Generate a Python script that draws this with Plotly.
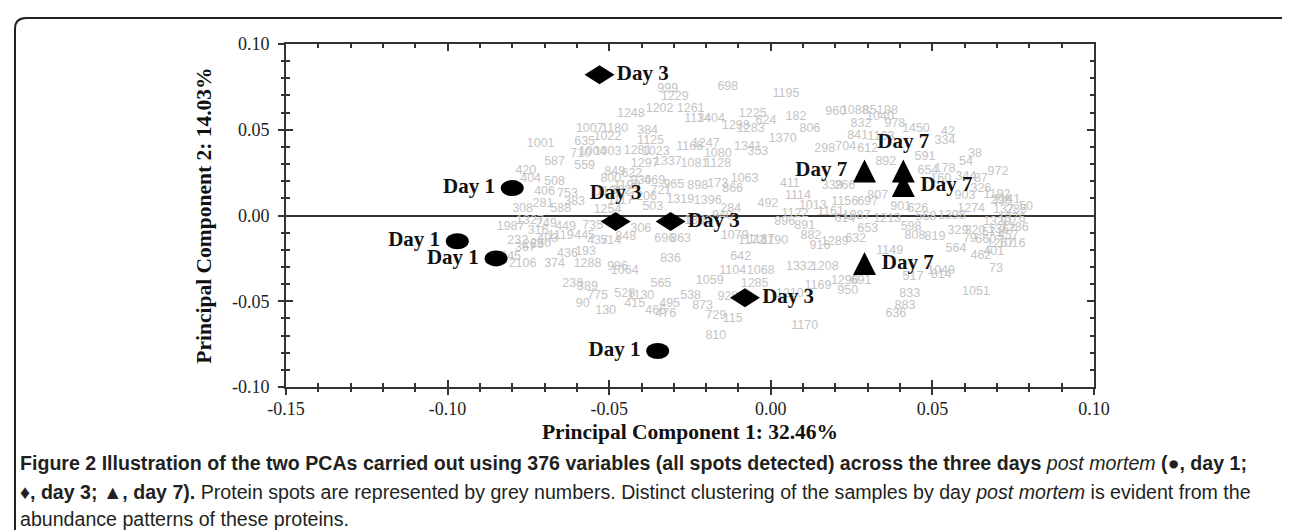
import plotly.graph_objects as go

# ---------------- data ----------------
day1_x = [-0.080, -0.097, -0.085, -0.035]
day1_y = [0.016, -0.015, -0.025, -0.079]
day3_x = [-0.053, -0.048, -0.031, -0.008]
day3_y = [0.082, -0.0035, -0.0035, -0.048]
day7_x = [0.029, 0.041, 0.041, 0.029]
day7_y = [0.026, 0.026, 0.0175, -0.028]

spot_ids = ["698", "999", "1229", "1248", "1202", "1261", "1134", "1404", "1298", "1007",
            "1180", "384", "1022", "635", "1001", "1125", "1004", "710", "1003", "1281",
            "1023", "1166", "1247", "1080", "1341", "1081", "1128", "1297", "1337", "587",
            "559", "420", "404", "508", "469", "406", "753", "383", "308", "588",
            "898", "173", "866", "1063", "1396", "284", "382", "849", "800", "930",
            "1987", "449", "735", "306", "232", "403", "445", "437", "514", "848",
            "696", "863", "1079", "260", "245", "2106", "374", "436", "193", "1288",
            "986", "1064", "836", "642", "1104", "238", "389", "775", "90", "130",
            "565", "528", "1130", "415", "495", "466", "476", "1059", "538", "873",
            "729", "115", "810", "928", "1285", "1195", "1225", "624", "182", "806",
            "1283", "1370", "353", "411", "1114", "1013", "492", "960", "1088", "851",
            "98", "1040", "832", "978", "1450", "841", "1163", "42", "334", "298",
            "704", "612", "892", "591", "38", "54", "654", "178", "344", "87",
            "972", "160", "326", "266", "339", "807", "697", "1156", "901", "626",
            "296", "50", "903", "896", "891", "614", "653", "1190", "882", "916",
            "1289", "632", "598", "808", "819", "329", "320", "79", "564", "462",
            "1149", "1332", "1208", "1068", "1169", "1296", "691", "950", "1210", "517",
            "1049", "814", "73", "1051", "833", "883", "636", "1170",
            "1376", "137", "1320", "457", "1267", "401", "1286", "571", "1141", "285",
            "1192", "660", "1016", "1367",
            "1117", "1254", "622", "1131", "1196", "1206", "721", "965", "1319", "503",
            "1327", "316", "367", "249", "263", "281", "1119",
            "1306", "940", "1122", "1161", "1087", "1213", "568", "1398", "1274", "1187", "1172"]
spot_x = [-0.0133, -0.0319, -0.0297, -0.0433, -0.0344, -0.0248, -0.0226, -0.0185, -0.0108, -0.0560,
          -0.0483, -0.0381, -0.0505, -0.0576, -0.0712, -0.0372, -0.0551, -0.0588, -0.0505, -0.0412,
          -0.0356, -0.0251, -0.0201, -0.0164, -0.0071, -0.0236, -0.0164, -0.0390, -0.0319, -0.0669,
          -0.0576, -0.0758, -0.0743, -0.0669, -0.0359, -0.0700, -0.0629, -0.0607, -0.0768, -0.0650,
          -0.0226, -0.0164, -0.0118, -0.0081, -0.0195, -0.0124, -0.0463, -0.0483, -0.0495, -0.0402,
          -0.0805, -0.0635, -0.0551, -0.0402, -0.0783, -0.0690, -0.0576, -0.0536, -0.0495, -0.0449,
          -0.0328, -0.0279, -0.0112, -0.0712, -0.0805, -0.0768, -0.0669, -0.0629, -0.0573, -0.0567,
          -0.0474, -0.0452, -0.0310, -0.0093, -0.0118, -0.0613, -0.0567, -0.0536, -0.0582, -0.0511,
          -0.0340, -0.0452, -0.0402, -0.0421, -0.0313, -0.0356, -0.0325, -0.0189, -0.0248, -0.0211,
          -0.0170, -0.0118, -0.0170, -0.0133, -0.0050, 0.0047, -0.0056, -0.0015, 0.0078, 0.0121,
          -0.0062, 0.0037, -0.0040, 0.0059, 0.0084, 0.0130, -0.0009, 0.0201, 0.0260, 0.0316,
          0.0372, 0.0338, 0.0279, 0.0384, 0.0449, 0.0269, 0.0341, 0.0548, 0.0539, 0.0167,
          0.0232, 0.0300, 0.0356, 0.0477, 0.0632, 0.0604, 0.0486, 0.0539, 0.0604, 0.0650,
          0.0703, 0.0526, 0.0650, 0.0229, 0.0190, 0.0331, 0.0300, 0.0229, 0.0402, 0.0455,
          0.0712, 0.0790, 0.0601, 0.0043, 0.0105, 0.0229, 0.0300, 0.0012, 0.0124, 0.0152,
          0.0198, 0.0263, 0.0434, 0.0446, 0.0508, 0.0579, 0.0632, 0.0616, 0.0573, 0.0650,
          0.0368, 0.0090, 0.0167, -0.0031, 0.0146, 0.0229, 0.0279, 0.0238, 0.0059, 0.0440,
          0.0527, 0.0527, 0.0697, 0.0635, 0.0430, 0.0415, 0.0387, 0.0105,
          0.0745, 0.0720, 0.0700, 0.0735, 0.0710, 0.0690, 0.0755, 0.0685, 0.0730, 0.0760,
          0.0700, 0.0665, 0.0745, 0.0715,
          -0.0465, -0.0505, -0.0430, -0.0500, -0.0445, -0.0395, -0.0340, -0.0300, -0.0280, -0.0365,
          -0.0745, -0.0720, -0.0760, -0.0695, -0.0735, -0.0705, -0.0650,
          -0.0225, -0.0150, 0.0075, 0.0185, 0.0265, 0.0360, 0.0480, 0.0560, 0.0620, -0.0030, -0.0060]
spot_y = [0.0752, 0.0740, 0.0694, 0.0595, 0.0624, 0.0624, 0.0566, 0.0566, 0.0525, 0.0507,
          0.0507, 0.0496, 0.0460, 0.0431, 0.0420, 0.0437, 0.0373, 0.0362, 0.0373, 0.0379,
          0.0373, 0.0402, 0.0420, 0.0362, 0.0402, 0.0303, 0.0303, 0.0303, 0.0315, 0.0315,
          0.0292, 0.0262, 0.0216, 0.0198, 0.0204, 0.0140, 0.0128, 0.0082, 0.0041, 0.0041,
          0.0175, 0.0187, 0.0157, 0.0216, 0.0087, 0.0041, 0.0146, 0.0257, 0.0216, 0.0204,
          -0.0064, -0.0064, -0.0058, -0.0076, -0.0146, -0.0134, -0.0117, -0.0146, -0.0146, -0.0122,
          -0.0134, -0.0134, -0.0117, -0.0163, -0.0239, -0.0280, -0.0280, -0.0222, -0.0210, -0.0280,
          -0.0297, -0.0320, -0.0251, -0.0239, -0.0321, -0.0397, -0.0414, -0.0466, -0.0513, -0.0554,
          -0.0397, -0.0455, -0.0466, -0.0513, -0.0513, -0.0554, -0.0571, -0.0379, -0.0466, -0.0525,
          -0.0583, -0.0600, -0.0700, -0.0472, -0.0397, 0.0711, 0.0595, 0.0554, 0.0577, 0.0507,
          0.0507, 0.0449, 0.0373, 0.0187, 0.0117, 0.0058, 0.0070, 0.0606, 0.0612, 0.0612,
          0.0612, 0.0577, 0.0536, 0.0536, 0.0507, 0.0466, 0.0460, 0.0490, 0.0437, 0.0391,
          0.0402, 0.0391, 0.0315, 0.0344, 0.0362, 0.0315, 0.0262, 0.0274, 0.0227, 0.0216,
          0.0257, 0.0216, 0.0157, 0.0175, 0.0175, 0.0117, 0.0082, 0.0082, 0.0052, 0.0041,
          0.0087, 0.0052, 0.0117, -0.0035, -0.0058, -0.0017, -0.0076, -0.0146, -0.0117, -0.0175,
          -0.0152, -0.0134, -0.0064, -0.0117, -0.0122, -0.0087, -0.0087, -0.0134, -0.0192, -0.0233,
          -0.0204, -0.0297, -0.0297, -0.0321, -0.0408, -0.0379, -0.0379, -0.0437, -0.0455, -0.0356,
          -0.0321, -0.0345, -0.0309, -0.0443, -0.0455, -0.0525, -0.0571, -0.0641,
          -0.0020, 0.0030, -0.0040, -0.0120, -0.0165, -0.0215, -0.0075, -0.0100, 0.0090, 0.0030,
          0.0120, -0.0145, -0.0165, -0.0085,
          0.0085, 0.0035, 0.0245, 0.0140, 0.0175, 0.0110, 0.0145, 0.0180, 0.0090, 0.0050,
          -0.0030, -0.0090, -0.0190, -0.0050, -0.0170, 0.0065, -0.0120,
          -0.0030, 0.0000, 0.0010, 0.0020, 0.0000, -0.0020, -0.0010, 0.0000, 0.0040, -0.0140, -0.0150]

x_ticks = [-0.15, -0.10, -0.05, 0.00, 0.05, 0.10]
x_tick_labels = ["-0.15", "-0.10", "-0.05", "0.00", "0.05", "0.10"]
y_ticks = [-0.10, -0.05, 0.00, 0.05, 0.10]
y_tick_labels = ["-0.10", "-0.05", "0.00", "0.05", "0.10"]
x_range = [-0.15, 0.10]
y_range = [-0.10, 0.10]

x_title = "Principal Component 1: 32.46%"
y_title = "Principal Component 2: 14.03%"
caption_lines = [
    "<b>Figure 2 Illustration of the two PCAs carried out using 376 variables (all spots detected) across the three days </b><i>post mortem</i><b> (●, day 1;</b>",
    "<b>♦, day 3; ▲, day 7).</b> Protein spots are represented by grey numbers. Distinct clustering of the samples by day <i>post mortem</i> is evident from the",
    "abundance patterns of these proteins.",
]

# ---------------- styles / layout ----------------
W, H = 1290, 530
L, R, T, B = 278, 1086, 36, 379
AX = "#333333"
SERIF = "Liberation Serif, Times New Roman, serif"
SANS = "Liberation Sans, Arial, sans-serif"


def pxx(p):
    return (p - L) / (R - L)


def pxy(p):
    return (B - p) / (B - T)


fig = go.Figure()

# grey protein spot numbers
fig.add_trace(go.Scatter(
    x=spot_x, y=spot_y, text=spot_ids, mode="text",
    textfont=dict(family=SANS, size=12.5, color="#c4c4c4"),
    hoverinfo="text", showlegend=False))

day1_pos = ["middle left"] * 4
day3_pos = ["middle right", "top center", "middle right", "middle right"]
day7_pos = ["middle left", "top center", "middle right", "middle right"]

for xs, ys, lab, pos in [(day1_x, day1_y, "Day 1", day1_pos),
                         (day3_x, day3_y, "Day 3", day3_pos),
                         (day7_x, day7_y, "Day 7", day7_pos)]:
    fig.add_trace(go.Scatter(
        x=xs, y=ys, mode="markers+text", text=[lab] * len(xs), textposition=pos,
        marker=dict(size=26, color="rgba(0,0,0,0)"),
        textfont=dict(family=SERIF, size=21, color="#111", weight="bold"),
        showlegend=False, name=lab))

# empty trace to activate overlay axes (outer tick halves)
fig.add_trace(go.Scatter(x=[None], y=[None], xaxis="x2", yaxis="y2", showlegend=False))

shapes = []
# Day 1: ellipses anchored on data
for xv, yv in zip(day1_x, day1_y):
    shapes.append(dict(type="circle", xref="x", yref="y", xsizemode="pixel", ysizemode="pixel",
                       xanchor=xv, yanchor=yv, x0=-11.5, x1=11.5, y0=-8, y1=8,
                       fillcolor="#000", line=dict(width=0)))
# Day 3: wide diamonds
for xv, yv in zip(day3_x, day3_y):
    shapes.append(dict(type="path", xref="x", yref="y", xsizemode="pixel", ysizemode="pixel",
                       xanchor=xv, yanchor=yv, path="M -15,0 L 0,9.5 L 15,0 L 0,-9.5 Z",
                       fillcolor="#000", line=dict(width=0)))
# Day 7: triangles
for xv, yv in zip(day7_x, day7_y):
    shapes.append(dict(type="path", xref="x", yref="y", xsizemode="pixel", ysizemode="pixel",
                       xanchor=xv, yanchor=yv, path="M -11.5,-11.5 L 11.5,-11.5 L 0,11.5 Z",
                       fillcolor="#000", line=dict(width=0)))
# outer rounded frame
fr_l, fr_t, fr_r, fr_b, rad = 7, 10, 1287, 540, 11
frame_path = (f"M {pxx(fr_l)},{pxy(fr_b)} L {pxx(fr_l)},{pxy(fr_t + rad)} "
              f"Q {pxx(fr_l)},{pxy(fr_t)} {pxx(fr_l + rad)},{pxy(fr_t)} "
              f"L {pxx(fr_r - rad)},{pxy(fr_t)} "
              f"Q {pxx(fr_r)},{pxy(fr_t)} {pxx(fr_r)},{pxy(fr_t + rad)} "
              f"L {pxx(fr_r)},{pxy(fr_b)}")
shapes.append(dict(type="path", xref="paper", yref="paper", path=frame_path,
                   line=dict(color="#222", width=2)))

annotations = []
cap_y = [455, 484, 511]
for txt, yp in zip(caption_lines, cap_y):
    annotations.append(dict(xref="paper", yref="paper", x=pxx(10), y=pxy(yp),
                            xanchor="left", yanchor="middle", showarrow=False, text=txt,
                            font=dict(family=SANS, size=19.6, color="#231f20")))

axis_common = dict(showline=True, linecolor=AX, linewidth=2, showgrid=False,
                   ticks="inside", ticklen=7, tickwidth=2, tickcolor=AX,
                   mirror="ticks",
                   tickfont=dict(family=SERIF, size=18, color="#222"))

fig.update_layout(
    width=W, height=H, autosize=False,
    margin=dict(l=L, r=W - R, t=T, b=H - B),
    paper_bgcolor="white", plot_bgcolor="white",
    xaxis=dict(range=x_range, tickvals=x_ticks, ticktext=x_tick_labels, zeroline=False,
               ticklabelstandoff=4,
               minor=dict(dtick=0.01, ticks="inside", ticklen=4, tickwidth=2, tickcolor=AX),
               title=dict(text=x_title, standoff=6,
                          font=dict(family=SERIF, size=21.5, color="#111", weight="bold")),
               **axis_common),
    yaxis=dict(range=y_range, tickvals=y_ticks, ticktext=y_tick_labels,
               zeroline=True, zerolinecolor=AX, zerolinewidth=2,
               ticklabelstandoff=11,
               minor=dict(dtick=0.01, ticks="inside", ticklen=4, tickwidth=2, tickcolor=AX),
               title=dict(text=y_title, standoff=14,
                          font=dict(family=SERIF, size=21.5, color="#111", weight="bold")),
               **axis_common),
    xaxis2=dict(overlaying="x", anchor="y", side="bottom", range=x_range, tickvals=x_ticks,
                showticklabels=False, showline=False, showgrid=False, zeroline=False,
                ticks="outside", ticklen=7, tickwidth=2, tickcolor=AX,
                minor=dict(dtick=0.01, ticks="outside", ticklen=4, tickwidth=2, tickcolor=AX)),
    yaxis2=dict(overlaying="y", anchor="x", side="left", range=y_range, tickvals=y_ticks,
                showticklabels=False, showline=False, showgrid=False, zeroline=False,
                ticks="outside", ticklen=7, tickwidth=2, tickcolor=AX,
                minor=dict(dtick=0.01, ticks="outside", ticklen=4, tickwidth=2, tickcolor=AX)),
    shapes=shapes, annotations=annotations,
)

fig.write_html("out.html")
